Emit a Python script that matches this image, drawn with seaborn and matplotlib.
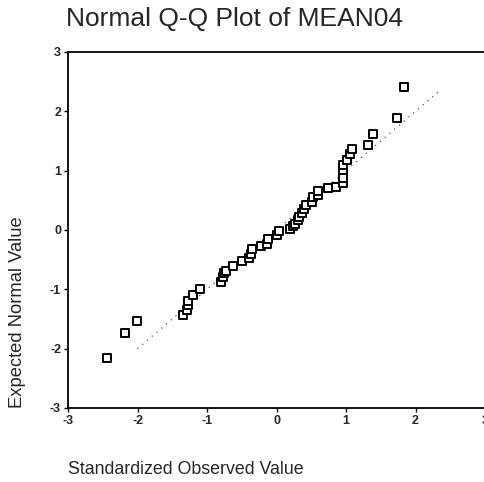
import numpy as np
import pandas as pd
import matplotlib
matplotlib.use("Agg")
import matplotlib.pyplot as plt
import seaborn as sns

observed = [-2.44, -2.18, -2.01, -1.35, -1.29, -1.28, -1.27, -1.20, -1.10,
            -0.80, -0.77, -0.75, -0.72, -0.62, -0.50, -0.40, -0.36, -0.35,
            -0.23, -0.14, -0.12, 0.00, 0.04, 0.20, 0.24, 0.26, 0.31, 0.33,
            0.36, 0.39, 0.42, 0.51, 0.53, 0.59, 0.60, 0.74, 0.85, 0.95,
            0.95, 0.96, 0.96, 1.02, 1.06, 1.09, 1.31, 1.39, 1.73, 1.84]
expected = [-2.16, -1.74, -1.54, -1.43, -1.34, -1.26, -1.20, -1.10, -0.99,
            -0.87, -0.79, -0.73, -0.69, -0.61, -0.53, -0.48, -0.40, -0.32,
            -0.27, -0.23, -0.15, -0.09, -0.02, 0.01, 0.06, 0.10, 0.17, 0.22,
            0.29, 0.35, 0.42, 0.48, 0.56, 0.59, 0.65, 0.70, 0.73, 0.80,
            0.88, 1.01, 1.09, 1.18, 1.28, 1.36, 1.44, 1.61, 1.89, 2.41]
ref_line = [-2.0, 2.35]
ticks = [-3, -2, -1, 0, 1, 2, 3]

sns.set_style("ticks")
plt.rcParams['font.family'] = ['Liberation Sans', 'DejaVu Sans']

fig = plt.figure(figsize=(4.84, 4.82), dpi=100)
ax = fig.add_axes([68 / 484, 1 - 408 / 482, 417 / 484, 356 / 482])

df = pd.DataFrame({"obs": observed, "exp": expected})
line_df = pd.DataFrame({"x": ref_line, "y": ref_line})
sns.lineplot(data=line_df, x="x", y="y", ax=ax, color="#555555",
             linewidth=0.9, linestyle=(0, (1, 4)))
sns.scatterplot(data=df, x="obs", y="exp", ax=ax, marker="s", s=28,
                facecolor="white", edgecolor="black", linewidth=1.4, zorder=3)

ax.set_xlim(-3, 3)
ax.set_ylim(-3, 3)
ax.set_xticks(ticks)
ax.set_yticks(ticks)
ax.set_xticklabels([str(t) for t in ticks], fontsize=9, fontweight="bold")
ax.set_yticklabels([str(t) for t in ticks], fontsize=9, fontweight="bold")
ax.tick_params(direction="out", length=3, width=1, color="black", pad=2)
for s in ax.spines.values():
    s.set_color("black")
    s.set_linewidth(1.3)

ax.set_xlabel("Standardized Observed Value", fontsize=12.8)
ax.set_ylabel("Expected Normal Value", fontsize=13.2)
ax.xaxis.set_label_coords(0.0, -0.148)
ax.xaxis.label.set_horizontalalignment("left")
ax.yaxis.set_label_coords(-0.101, 0.27)
fig.text(234 / 484, 1 - 19 / 482, "Normal Q-Q Plot of MEAN04",
         ha="center", va="center", fontsize=19)

fig.savefig("out.png", dpi=100)
